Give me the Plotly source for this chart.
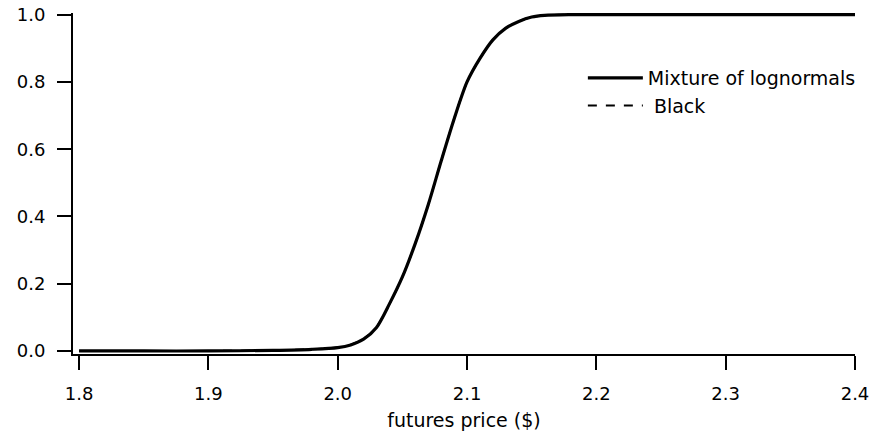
import plotly.graph_objects as go

# Futures price grid ($) and cumulative probabilities
price = [1.80, 1.85, 1.90, 1.95, 1.98, 2.00, 2.01, 2.02, 2.03, 2.04, 2.05,
         2.06, 2.07, 2.08, 2.09, 2.10, 2.11, 2.12, 2.13, 2.14, 2.15, 2.16,
         2.18, 2.20, 2.25, 2.30, 2.35, 2.40]
mixture_cdf = [0.000, 0.000, 0.000, 0.002, 0.005, 0.010, 0.018, 0.035, 0.070,
               0.140, 0.220, 0.320, 0.435, 0.565, 0.690, 0.800, 0.870, 0.925,
               0.960, 0.980, 0.993, 0.998, 1.000, 1.000, 1.000, 1.000, 1.000,
               1.000]
black_cdf = [0.000, 0.000, 0.000, 0.002, 0.005, 0.011, 0.019, 0.036, 0.071,
             0.140, 0.220, 0.320, 0.435, 0.565, 0.690, 0.800, 0.870, 0.925,
             0.960, 0.980, 0.993, 0.998, 1.000, 1.000, 1.000, 1.000, 1.000,
             1.000]

x_ticks = [1.8, 1.9, 2.0, 2.1, 2.2, 2.3, 2.4]
x_tick_labels = ["1.8", "1.9", "2.0", "2.1", "2.2", "2.3", "2.4"]
y_ticks = [0.0, 0.2, 0.4, 0.6, 0.8, 1.0]
y_tick_labels = ["0.0", "0.2", "0.4", "0.6", "0.8", "1.0"]

FONT = "DejaVu Sans, Verdana, sans-serif"

fig = go.Figure()
fig.add_trace(go.Scatter(
    x=price, y=mixture_cdf, mode="lines", name="Mixture of lognormals",
    line=dict(color="black", width=3.2, shape="spline", smoothing=0.8),
))
fig.add_trace(go.Scatter(
    x=price, y=black_cdf, mode="lines", name="\u00a0Black",
    line=dict(color="black", width=2, dash="dash", shape="spline", smoothing=0.8),
))

axis_common = dict(
    showline=True, linecolor="black", linewidth=2,
    ticks="outside", ticklen=14, tickwidth=2, tickcolor="black",
    showgrid=False, zeroline=False, automargin=False,
    tickfont=dict(family=FONT, size=18, color="black"),
)

fig.update_layout(
    width=872, height=431,
    margin=dict(l=73, r=17, t=13, b=77, autoexpand=False),
    paper_bgcolor="white", plot_bgcolor="white",
    font=dict(family=FONT, color="black"),
    xaxis=dict(
        range=[1.7953, 2.4], tickvals=x_ticks, ticktext=x_tick_labels,
        title=dict(text="futures price ($)", font=dict(family=FONT, size=19),
                   standoff=11),
        ticklabelstandoff=8,
        **axis_common,
    ),
    yaxis=dict(
        range=[-0.009, 1.005], tickvals=y_ticks, ticktext=y_tick_labels,
        ticklabelstandoff=8,
        **axis_common,
    ),
    legend=dict(
        x=0.652, y=0.865, xanchor="left", yanchor="top",
        bgcolor="rgba(0,0,0,0)", font=dict(family=FONT, size=19),
        tracegroupgap=0, itemwidth=55,
    ),
    showlegend=True,
)

fig.write_html("out.html")
